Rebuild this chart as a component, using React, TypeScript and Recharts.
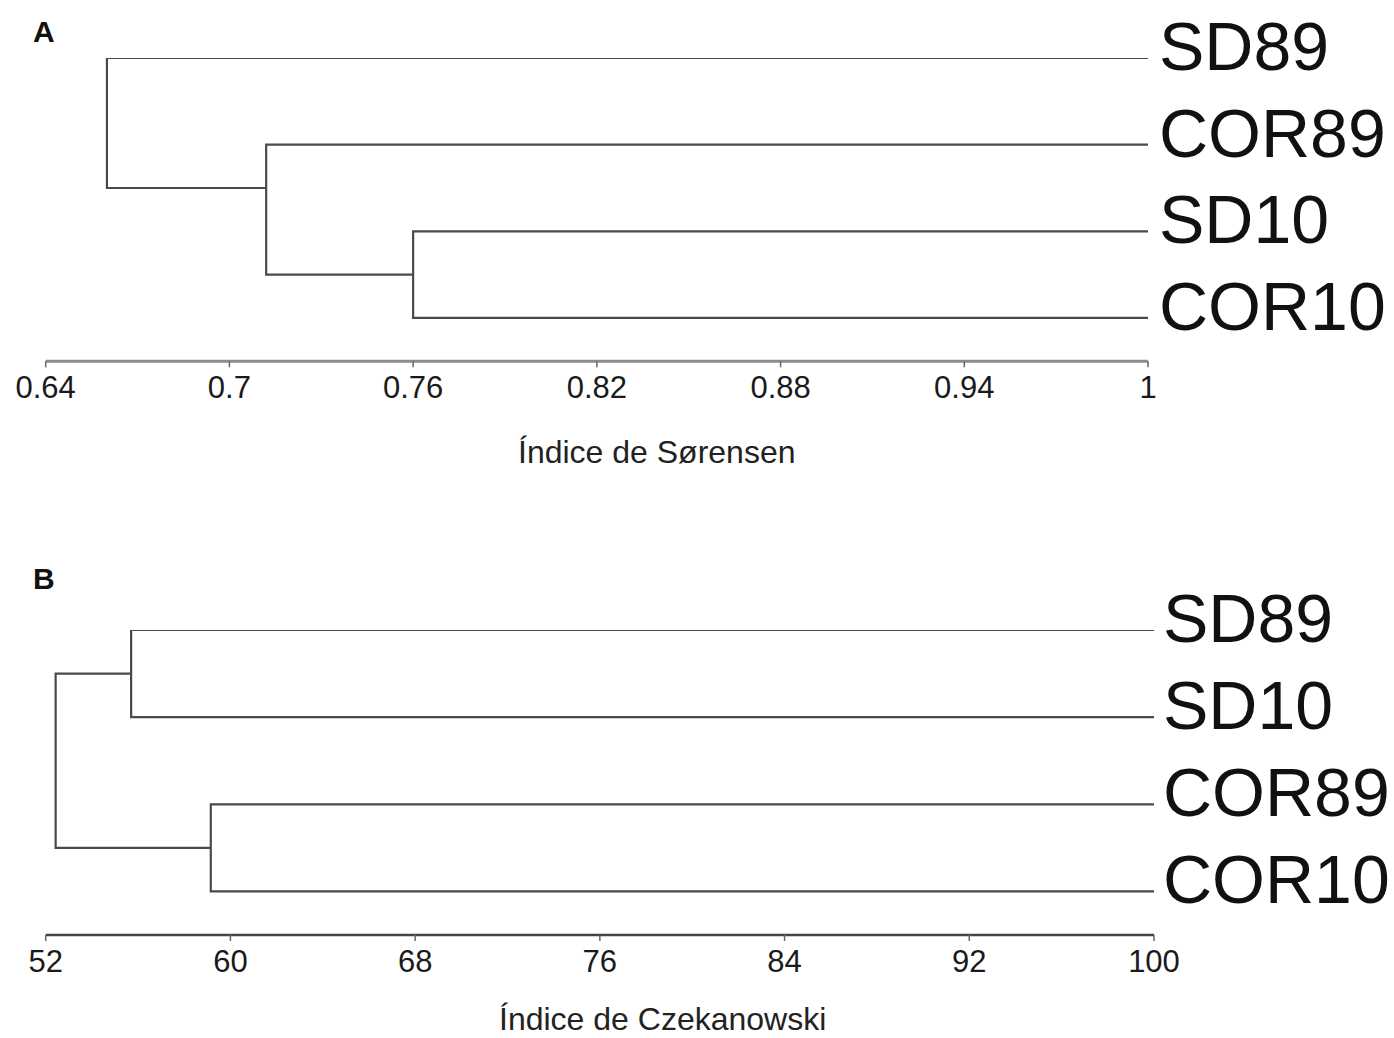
import { LineChart, Line, XAxis, YAxis } from 'recharts';

// Panel A - Sørensen
const leavesA = ['SD89', 'COR89', 'SD10', 'COR10'];
const mergeLeftA = ['SD10', 'COR89', 'SD89'];
const mergeRightA = ['COR10', 'm0', 'm1'];
const mergeLevelA = [0.76, 0.712, 0.66];
const mergeRowA = [2.5, 1.5, 0.75];
const ticksA = [0.64, 0.7, 0.76, 0.82, 0.88, 0.94, 1];

// Panel B - Czekanowski
const leavesB = ['SD89', 'SD10', 'COR89', 'COR10'];
const mergeLeftB = ['SD89', 'COR89', 'm0'];
const mergeRightB = ['SD10', 'COR10', 'm1'];
const mergeLevelB = [55.7, 59.15, 52.43];
const mergeRowB = [0.5, 2.5, 1.5];
const ticksB = [52, 60, 68, 76, 84, 92, 100];

const FONT = '"Liberation Sans", Arial, Helvetica, sans-serif';
const LINE = '#4a4a4a';

// build one bracket path per merge: child a -> level -> child b
function buildPaths(
  leaves: string[],
  left: string[],
  right: string[],
  levels: number[],
  rows: number[],
  leafLevel: number
) {
  const pos = (id: string) => {
    if (id.startsWith('m')) {
      const i = Number(id.slice(1));
      return { x: levels[i], y: rows[i] };
    }
    return { x: leafLevel, y: leaves.indexOf(id) };
  };
  return levels.map((h, i) => {
    const a = pos(left[i]);
    const b = pos(right[i]);
    return [
      { x: a.x, y: a.y },
      { x: h, y: a.y },
      { x: h, y: b.y },
      { x: b.x, y: b.y },
    ];
  });
}

const LeafTick = (leaves: string[]) => (props: any) => {
  const { x, y, payload } = props;
  return (
    <text x={x} y={y + 12} fontSize={68} fontFamily={FONT} fill="#111" textAnchor="start">
      {leaves[payload.value]}
    </text>
  );
};

type PanelProps = {
  leaves: string[];
  paths: { x: number; y: number }[][];
  domain: [number, number];
  ticks: number[];
  top: number;
  height: number;
  plotTop: number;
  plotHeight: number;
  plotLeft: number;
  plotRight: number;
  labelGap: number;
  axisColor: string;
  axisWidth: number;
};

const Panel = (p: PanelProps) => {
  const xAxisHeight = 50;
  const bottom = p.height - p.plotTop - p.plotHeight - xAxisHeight;
  return (
    <div style={{ position: 'absolute', left: 0, top: p.top }}>
      <LineChart
        width={1394}
        height={p.height}
        margin={{ top: p.plotTop, right: 0, bottom, left: p.plotLeft }}
      >
        <XAxis
          type="number"
          dataKey="x"
          domain={p.domain}
          ticks={p.ticks}
          allowDataOverflow
          height={xAxisHeight}
          axisLine={{ stroke: p.axisColor, strokeWidth: p.axisWidth }}
          tickLine={{ stroke: '#666', strokeWidth: 1.5 }}
          tickSize={6}
          tickMargin={9}
          tick={{ fontSize: 31, fontFamily: FONT, fill: '#1a1a1a' }}
        />
        <YAxis
          type="number"
          orientation="right"
          domain={[0, 3.5]}
          ticks={[0, 1, 2, 3]}
          reversed
          allowDataOverflow
          width={1394 - p.plotRight}
          axisLine={false}
          tickLine={false}
          tickSize={0}
          tickMargin={p.labelGap}
          tick={LeafTick(p.leaves)}
        />
        {p.paths.map((d, i) => (
          <Line
            key={i}
            data={d}
            dataKey="y"
            type="linear"
            stroke={LINE}
            strokeWidth={2.2}
            dot={false}
            activeDot={false}
            isAnimationActive={false}
          />
        ))}
      </LineChart>
    </div>
  );
};

export default function App() {
  const pathsA = buildPaths(leavesA, mergeLeftA, mergeRightA, mergeLevelA, mergeRowA, 1);
  const pathsB = buildPaths(leavesB, mergeLeftB, mergeRightB, mergeLevelB, mergeRowB, 100);
  return (
    <div style={{ position: 'absolute', left: 0, top: 0, width: 1394, height: 1038, background: '#fff' }}>
      <Panel
        leaves={leavesA}
        paths={pathsA}
        domain={[0.64, 1]}
        ticks={ticksA}
        top={0}
        height={500}
        plotTop={58}
        plotHeight={303.3}
        plotLeft={45.7}
        plotRight={1148}
        labelGap={11}
        axisColor="#8c8c8c"
        axisWidth={3}
      />
      <Panel
        leaves={leavesB}
        paths={pathsB}
        domain={[52, 100]}
        ticks={ticksB}
        top={520}
        height={518}
        plotTop={110}
        plotHeight={305}
        plotLeft={45.7}
        plotRight={1154}
        labelGap={9}
        axisColor="#444"
        axisWidth={2.5}
      />
      <svg
        width={1394}
        height={1038}
        style={{ position: 'absolute', left: 0, top: 0, pointerEvents: 'none' }}
      >
        <text x={33} y={42} fontSize={30} fontWeight="bold" fontFamily={FONT} fill="#111">A</text>
        <text x={33} y={589} fontSize={30} fontWeight="bold" fontFamily={FONT} fill="#111">B</text>
        <text x={518} y={463} fontSize={32} fontFamily={FONT} fill="#222">Índice de Sørensen</text>
        <text x={499} y={1030} fontSize={32} fontFamily={FONT} fill="#222">Índice de Czekanowski</text>
      </svg>
    </div>
  );
}
